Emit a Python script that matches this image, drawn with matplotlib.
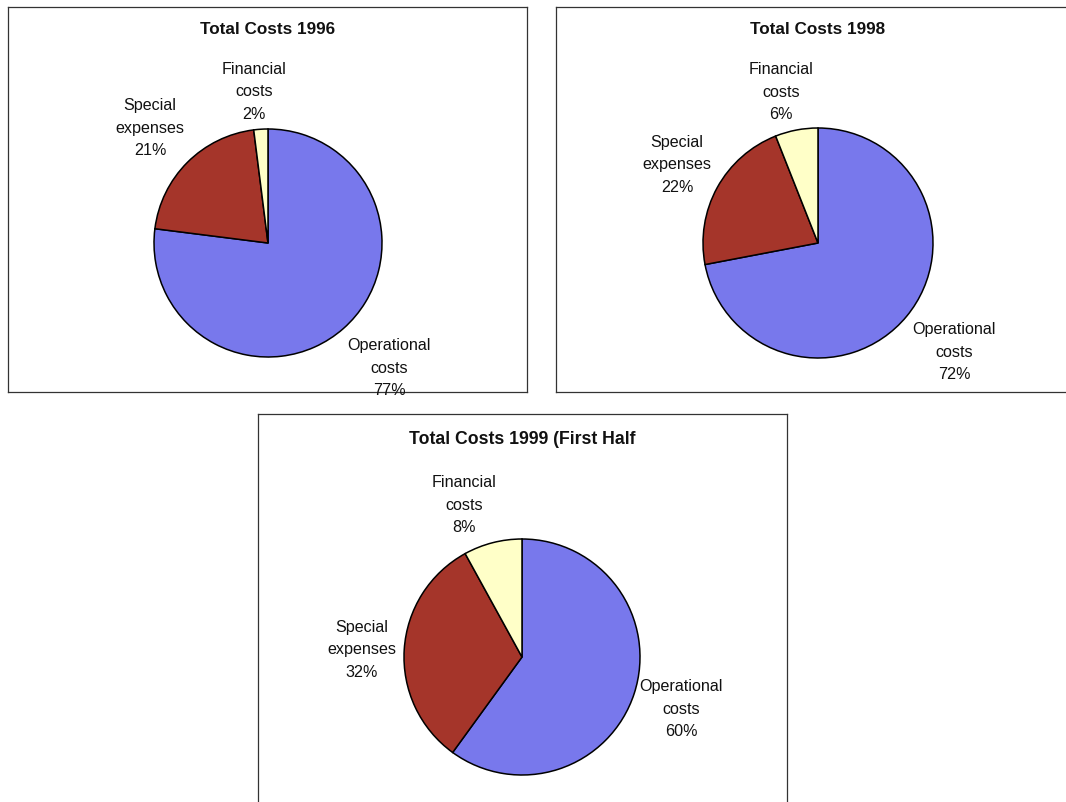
import numpy as np
import matplotlib.pyplot as plt

plt.rcParams['font.family'] = ['Liberation Sans', 'DejaVu Sans']

categories = ["Operational\ncosts", "Special\nexpenses", "Financial\ncosts"]
costs_1996 = [77, 21, 2]
costs_1998 = [72, 22, 6]
costs_1999 = [60, 32, 8]
titles = ["Total Costs 1996", "Total Costs 1998", "Total Costs 1999 (First Half"]

colors = ["#7878ec", "#a5352a", "#ffffc8"]

W, H = 1066, 803
fig = plt.figure(figsize=(W / 100, H / 100), dpi=100)

# box in pixels: left, top, right, bottom ; pie centre (px, relative to box) and radius
boxes = [
    (8, 8, 527, 393),
    (556, 8, 1076, 393),
    (258, 415, 787, 813),
]
centers = [(260, 149), (262, 149), (264, 155)]
radii = [114, 115, 118]
title_size = [12.3, 12.3, 12.7]
title_pad = [21, 21, 25]
# label placement: distance (in radii) and angle nudge (deg) from the wedge middle
label_dist = [[1.52, 1.45, 1.34], [1.51, 1.405, 1.36], [1.415, 1.36, 1.385]]
label_nudge = [[2.9, 0.5, 1.7], [1.1, -0.5, 2.9], [0.2, 0.7, 6.2]]

for i, values in enumerate([costs_1996, costs_1998, costs_1999]):
    l, t, r, b = boxes[i]
    w, h = r - l, b - t
    ax = fig.add_axes([l / W, 1 - b / H, w / W, h / H])
    wedges, texts = ax.pie(values, labels=categories, colors=colors,
                           startangle=90, counterclock=False,
                           center=centers[i], radius=radii[i], frame=True,
                           wedgeprops=dict(edgecolor="black", linewidth=1.1),
                           textprops=dict(fontsize=11.6, ha="center", va="center",
                                          linespacing=1.62, color="#111111"))
    cx, cy = centers[i]
    for j, (wd, txt) in enumerate(zip(wedges, texts)):
        ang = np.deg2rad((wd.theta1 + wd.theta2) / 2 + label_nudge[i][j])
        d = label_dist[i][j] * radii[i]
        txt.set_position((cx + d * np.cos(ang), cy + d * np.sin(ang)))
        txt.set_text(categories[j] + "\n" + str(values[j]) + "%")
    ax.set_xlim(0, w)
    ax.set_ylim(0, h)
    ax.set_xticks([])
    ax.set_yticks([])
    for s in ax.spines.values():
        s.set_color("#333333")
        s.set_linewidth(0.9)
    ax.text(cx, h - title_pad[i], titles[i], ha="center", va="center",
            fontsize=title_size[i], fontweight="bold", color="#111111")

fig.savefig("out.png", dpi=100)
